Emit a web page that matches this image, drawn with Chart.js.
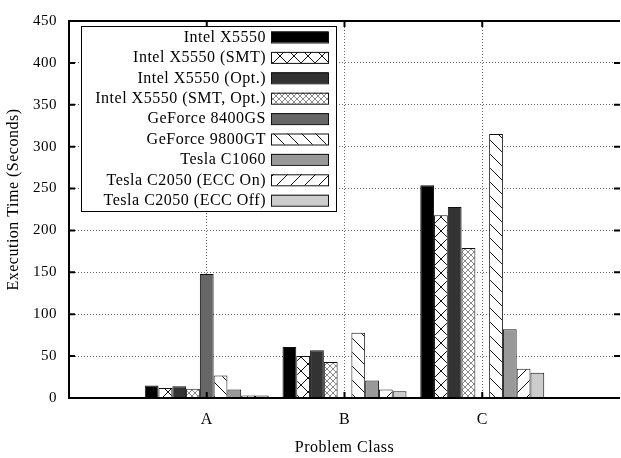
<!DOCTYPE html>
<html>
<head>
<meta charset="utf-8">
<script src="https://cdn.jsdelivr.net/npm/chart.js@4"></script>
<style>
  html, body { margin: 0; padding: 0; background: #fff; }
  #wrap { width: 621px; height: 458px; }
</style>
</head>
<body>
<div id="wrap"><canvas id="chart"></canvas></div>
<script>
// problem classes on the x axis
const classes = ['A', 'B', 'C'];

// execution time in seconds, one array per device (null = no run)
const intelX5550 = [15, 61, 254];
const intelX5550Smt = [12, 50, 218];
const intelX5550Opt = [14, 57, 228];
const intelX5550SmtOpt = [11, 43, 179];
const geforce8400gs = [148, null, null];
const geforce9800gt = [27, 78, 315];
const teslaC1060 = [10, 21, 82];
const teslaC2050EccOn = [3, 10, 35];
const teslaC2050EccOff = [3, 8, 30];

const yMin = 0, yMax = 450, yStep = 50;

// hatch fills like the gnuplot patterns
function hatch(size, color, lw, dirs) {
    const c = document.createElement('canvas');
    c.width = c.height = size;
    const g = c.getContext('2d');
    g.fillStyle = '#fff';
    g.fillRect(0, 0, size, size);
    g.strokeStyle = color;
    g.lineWidth = lw;
    g.beginPath();
    for (const k of [-size, 0, size]) {
        if (dirs.includes('\\')) {
            g.moveTo(k, 0);
            g.lineTo(k + size, size);
        }
        if (dirs.includes('/')) {
            g.moveTo(k, size);
            g.lineTo(k + size, 0);
        }
    }
    g.stroke();
    return g.createPattern(c, 'repeat');
}

const series = [
    { label: 'Intel X5550', data: intelX5550, fill: '#000000' },
    { label: 'Intel X5550 (SMT)', data: intelX5550Smt, fill: hatch(14, '#111', 1, '\\/') },
    { label: 'Intel X5550 (Opt.)', data: intelX5550Opt, fill: '#333333' },
    { label: 'Intel X5550 (SMT, Opt.)', data: intelX5550SmtOpt, fill: hatch(6, '#8a8a8a', 1, '\\/') },
    { label: 'GeForce 8400GS', data: geforce8400gs, fill: '#666666' },
    { label: 'GeForce 9800GT', data: geforce9800gt, fill: hatch(14, '#111', 1, '\\') },
    { label: 'Tesla C1060', data: teslaC1060, fill: '#999999' },
    { label: 'Tesla C2050 (ECC On)', data: teslaC2050EccOn, fill: hatch(14, '#111', 1, '/') },
    { label: 'Tesla C2050 (ECC Off)', data: teslaC2050EccOff, fill: '#cccccc' }
];

Chart.defaults.font.family = "'Liberation Serif', 'Times New Roman', serif";
Chart.defaults.font.size = 15;
Chart.defaults.color = '#000';

const gnuplotLook = {
    id: 'gnuplotLook',
    beforeDraw(chart) {
        chart.ctx.letterSpacing = '0.5px';
    },
    afterDatasetsDraw(chart) {
        const ctx = chart.ctx;
        const { left, right, top, bottom } = chart.chartArea;
        const xs = chart.scales.x, ys = chart.scales.y;
        ctx.save();
        ctx.strokeStyle = '#000';
        ctx.lineWidth = 2;
        ctx.beginPath();
        ctx.moveTo(right, top);
        ctx.lineTo(left, top);
        ctx.lineTo(left, bottom);
        ctx.lineTo(right, bottom);
        ys.ticks.forEach(t => {
            const y = ys.getPixelForValue(t.value);
            ctx.moveTo(left, y);
            ctx.lineTo(left + 6, y);
            ctx.moveTo(right - 6, y);
            ctx.lineTo(right, y);
        });
        xs.ticks.forEach(t => {
            const x = xs.getPixelForValue(t.value);
            ctx.moveTo(x, bottom);
            ctx.lineTo(x, bottom - 6);
            ctx.moveTo(x, top);
            ctx.lineTo(x, top + 6);
        });
        ctx.stroke();
        ctx.restore();
    },
    afterDraw(chart) {
        const ctx = chart.ctx;
        const { left, top, bottom } = chart.chartArea;
        ctx.save();
        ctx.letterSpacing = '0.5px';

        // y axis title
        ctx.font = "16px 'Liberation Serif', serif";
        ctx.fillStyle = '#000';
        ctx.textAlign = 'center';
        ctx.textBaseline = 'middle';
        ctx.translate(14, (top + bottom) / 2 - 10);
        ctx.rotate(-Math.PI / 2);
        ctx.fillText('Execution Time (Seconds)', 0, 0);
        ctx.setTransform(1, 0, 0, 1, 0, 0);

        // key box
        const bx = left + 12, by = top + 5, bw = 255, bh = 185;
        ctx.fillStyle = '#fff';
        ctx.fillRect(bx, by, bw, bh);
        ctx.strokeStyle = '#000';
        ctx.lineWidth = 1;
        ctx.strokeRect(bx + 0.5, by + 0.5, bw, bh);
        ctx.textAlign = 'right';
        chart.data.datasets.forEach((ds, i) => {
            const cy = by + 10.5 + i * 20.4;
            ctx.fillStyle = '#000';
            ctx.fillText(ds.label, bx + 185, cy + 1);
            ctx.fillStyle = ds.backgroundColor;
            ctx.fillRect(bx + 190, cy - 5, 57, 11);
            ctx.strokeStyle = '#111';
            ctx.strokeRect(bx + 190.5, cy - 4.5, 57, 11);
        });
        ctx.restore();
    }
};

new Chart(document.getElementById('chart'), {
    type: 'bar',
    data: {
        datasets: series.map(s => ({
            label: s.label,
            data: s.data.map((v, i) => ({ x: i, y: v })),
            backgroundColor: s.fill,
            borderColor: '#111',
            borderWidth: 1,
            categoryPercentage: 0.9,
            barPercentage: 1
        }))
    },
    options: {
        animation: false,
        responsive: true,
        maintainAspectRatio: false,
        layout: { padding: { top: 14, right: 1, left: 0, bottom: 0 } },
        plugins: {
            legend: { display: false },
            tooltip: { enabled: false }
        },
        scales: {
            x: {
                type: 'linear',
                min: -1,
                max: 3,
                offset: false,
                afterBuildTicks: s => {
                    s.ticks = classes.map((c, i) => ({ value: i }));
                },
                afterFit: s => {
                    s.height = 60;
                },
                ticks: {
                    callback: v => classes[v] ?? '',
                    padding: 12,
                    maxRotation: 0,
                    autoSkip: false,
                    font: { size: 16 }
                },
                grid: { offset: false, drawTicks: false, color: '#666', lineWidth: 1 },
                border: { display: false, dash: [1, 2] },
                title: {
                    display: true,
                    text: 'Problem Class',
                    font: { size: 16 },
                    padding: { top: 0, bottom: 1 }
                }
            },
            y: {
                min: yMin,
                max: yMax,
                afterFit: s => {
                    s.width = 69;
                },
                ticks: { stepSize: yStep, padding: 12 },
                grid: { drawTicks: false, color: '#666', lineWidth: 1 },
                border: { display: false, dash: [1, 2] }
            }
        }
    },
    plugins: [gnuplotLook]
});
</script>
</body>
</html>
